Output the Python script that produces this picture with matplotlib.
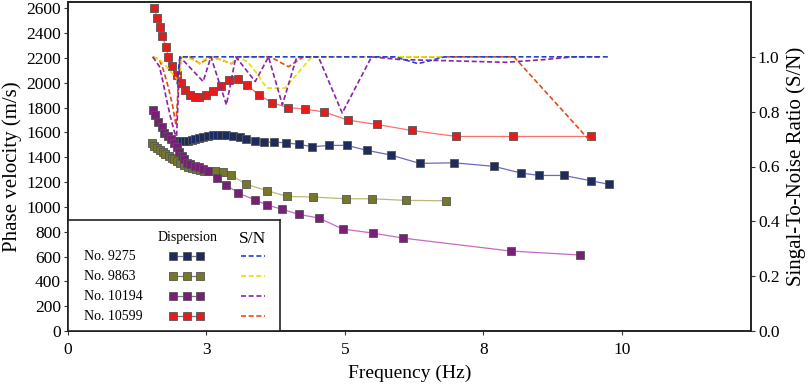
import matplotlib
matplotlib.use("Agg")
import matplotlib.pyplot as plt

plt.rcParams['font.family'] = ['Liberation Serif', 'DejaVu Serif']

# ---------------- data ----------------
# Dispersion curves (frequency Hz, phase velocity m/s)
f_9275 = [1.97, 2.05, 2.11, 2.17, 2.23, 2.29, 2.37, 2.44, 2.53, 2.62, 2.69, 2.77, 2.86, 2.97,
          3.10, 3.22, 3.38, 3.54, 3.72, 3.93, 4.17, 4.41, 4.71, 5.03, 5.40, 5.83, 6.35, 6.97,
          7.69, 8.18, 8.51, 8.95, 9.44, 9.77]
v_9275 = [1532, 1532, 1532, 1532, 1538, 1543, 1551, 1564, 1572, 1578, 1580, 1580, 1578, 1572,
          1559, 1546, 1532, 1521, 1521, 1516, 1503, 1484, 1495, 1495, 1455, 1417, 1350, 1355,
          1326, 1272, 1253, 1253, 1210, 1181]

f_9863 = [1.51, 1.56, 1.61, 1.66, 1.71, 1.76, 1.82, 1.87, 1.91, 1.97, 2.03, 2.09, 2.17, 2.23,
          2.31, 2.38, 2.45, 2.53, 2.65, 2.79, 2.94, 3.21, 3.60, 3.95, 4.42, 5.01, 5.49, 6.10, 6.83]
v_9863 = [1511, 1492, 1473, 1457, 1441, 1425, 1409, 1395, 1382, 1366, 1350, 1339, 1323, 1315,
          1302, 1294, 1291, 1288, 1286, 1278, 1256, 1183, 1130, 1084, 1079, 1065, 1065, 1052, 1049]

f_10194 = [1.54, 1.57, 1.63, 1.69, 1.74, 1.80, 1.86, 1.91, 1.96, 2.01, 2.05, 2.09, 2.15, 2.21,
           2.29, 2.36, 2.44, 2.53, 2.69, 2.86, 3.07, 3.38, 3.60, 3.87, 4.17, 4.53, 4.96, 5.50,
           6.05, 7.99, 9.25]
v_10194 = [1779, 1739, 1685, 1640, 1596, 1570, 1543, 1516, 1479, 1443, 1409, 1382, 1355, 1344,
           1331, 1318, 1302, 1288, 1229, 1175, 1113, 1055, 1014, 980, 939, 910, 821, 789,
           748, 644, 612]

f_10599 = [1.56, 1.61, 1.66, 1.70, 1.77, 1.81, 1.87, 1.96, 2.04, 2.12, 2.20, 2.29, 2.37, 2.50,
           2.62, 2.76, 2.91, 3.06, 3.24, 3.44, 3.69, 3.97, 4.28, 4.62, 5.05, 5.57, 6.21, 7.01,
           8.04, 9.44]
v_10599 = [2600, 2522, 2450, 2375, 2289, 2208, 2133, 2061, 1994, 1945, 1900, 1884, 1881, 1897,
           1934, 1975, 2021, 2026, 1980, 1902, 1838, 1800, 1787, 1765, 1699, 1664, 1615, 1567,
           1567, 1567]

# Signal-to-noise ratio curves (frequency Hz, S/N)
sf_9275 = [1.97, 2.02, 5.90, 6.32, 6.80, 9.77]
sn_9275 = [0.90, 1.00, 1.00, 0.975, 1.00, 1.00]

sf_9863 = [1.53, 1.65, 1.80, 1.92, 2.00, 2.06, 2.25, 2.38, 2.52, 2.75, 2.95, 3.08, 3.25, 3.43,
           3.59, 3.92, 4.40, 6.83]
sn_9863 = [1.00, 0.99, 0.96, 0.93, 0.91, 1.00, 0.99, 0.975, 1.00, 0.99, 0.975, 1.00, 0.98, 0.934,
           0.886, 0.886, 1.00, 1.00]

sf_10194 = [1.53, 1.65, 1.72, 1.78, 1.85, 1.93, 1.96, 2.02, 2.44, 2.58, 2.86, 3.03, 3.38, 3.62,
            3.87, 4.13, 4.52, 4.95, 5.48, 6.00, 7.00, 7.91, 8.60, 9.12, 9.60]
sn_10194 = [1.00, 0.965, 0.904, 0.843, 0.78, 0.72, 0.71, 1.00, 0.91, 1.00, 0.825, 1.00, 0.91, 1.00,
            0.825, 1.00, 1.00, 0.795, 1.00, 0.99, 0.985, 0.98, 0.99, 1.00, 1.00]

sf_10599 = [1.53, 1.65, 1.72, 1.81, 1.89, 1.95, 2.02, 2.20, 2.38, 2.58, 2.75, 2.95, 3.10, 3.65,
            3.98, 4.25, 8.05, 9.44]
sn_10599 = [1.00, 0.99, 0.953, 0.89, 0.82, 0.75, 1.00, 1.00, 0.975, 1.00, 0.99, 0.975, 1.00, 1.00,
            0.964, 1.00, 1.00, 0.69]

station_labels = ["No. 9275", "No. 9863", "No. 10194", "No. 10599"]

x_ticks = [0, 2.5, 5, 7.5, 10]
x_tick_labels = ["0", "3", "5", "8", "10"]
y_ticks = list(range(0, 2601, 200))
sn_ticks = [0.0, 0.2, 0.4, 0.6, 0.8, 1.0]

# ---------------- styling ----------------
disp_marker_colors = ["#1e2b5e", "#77772a", "#7a1f78", "#e51c1c"]
disp_line_colors = ["#6a6ab8", "#b9b978", "#c46cc2", "#ff6e6e"]
sn_colors = ["#2244cc", "#e6e000", "#8a22a8", "#e84a10"]

W, H = 809, 387
fig = plt.figure(figsize=(W / 100, H / 100), dpi=100)
ax_l, ax_r, ax_t, ax_b = 68, 751, 2, 331
ax = fig.add_axes([ax_l / W, 1 - ax_b / H, (ax_r - ax_l) / W, (ax_b - ax_t) / H])

disp = [(f_9275, v_9275), (f_9863, v_9863), (f_10194, v_10194), (f_10599, v_10599)]
for (fx, vy), mc, lc in zip(disp, disp_marker_colors, disp_line_colors):
    ax.plot(fx, vy, '-', color=lc, lw=0.9, marker='s', ms=5.2, mfc=mc, mec='#555555', mew=0.6)

ax.set_xlim(0, 12.33)
ax.set_ylim(0, 2650)
ax.set_xticks(x_ticks)
ax.set_xticklabels(x_tick_labels)
ax.set_yticks(y_ticks)
ax.tick_params(axis='y', labelsize=12.5, length=3, direction='out', color='#333333', pad=2)
ax.tick_params(axis='x', labelsize=12.5, length=3, direction='out', color='#333333', pad=5)
ax.set_xlabel("Frequency (Hz)", fontsize=14, labelpad=5)
ax.set_ylabel("Phase velocity (m/s)", fontsize=15, labelpad=3)
for s in ax.spines.values():
    s.set_linewidth(1.2)
    s.set_color('#222222')

ax2 = ax.twinx()
sn = [(sf_10599, sn_10599, sn_colors[3]), (sf_9863, sn_9863, sn_colors[1]),
      (sf_10194, sn_10194, sn_colors[2]), (sf_9275, sn_9275, sn_colors[0])]
for fx, ry, c in sn:
    ax2.plot(fx, ry, color=c, lw=1.2, dashes=(3, 1.6))
ax2.set_ylim(0, 1.2)
ax2.set_yticks(sn_ticks)
ax2.set_yticklabels([f"{t:.1f}" for t in sn_ticks])
ax2.tick_params(axis='y', labelsize=12.5, length=3, direction='out', color='#333333', pad=2)
ax2.set_ylabel("Singal-To-Noise Ratio (S/N)", fontsize=15, labelpad=5)
for s in ax2.spines.values():
    s.set_linewidth(1.2)
    s.set_color('#222222')

# ---------------- legend box ----------------
lg_l, lg_r, lg_t, lg_b = 68, 280, 220, 331
lax = fig.add_axes([lg_l / W, 1 - lg_b / H, (lg_r - lg_l) / W, (lg_b - lg_t) / H])
lax.set_zorder(10)
lax.set_facecolor('white')
lax.set_xlim(0, lg_r - lg_l)
lax.set_ylim(lg_b - lg_t, 0)
lax.set_xticks([])
lax.set_yticks([])
for s in lax.spines.values():
    s.set_linewidth(1.2)
    s.set_color('#222222')

lax.text(120, 17, "Dispersion", fontsize=10, ha='center', va='center')
lax.text(185, 19, "S/N", fontsize=12.5, ha='center', va='center')
rows_y = [36, 56, 76, 96]
for lbl, yy, mc, lc, sc in zip(station_labels, rows_y, disp_marker_colors, disp_line_colors, sn_colors):
    lax.text(16, yy, lbl, fontsize=10, ha='left', va='center')
    lax.plot([105, 118.5, 132], [yy, yy, yy], '-', color='#777777', lw=0.9,
             marker='s', ms=5.2, mfc=mc, mec='#555555', mew=0.6)
    lax.plot([173, 197], [yy, yy], color=sc, lw=1.2, dashes=(3, 1.6))

fig.savefig("out.png", dpi=100)
